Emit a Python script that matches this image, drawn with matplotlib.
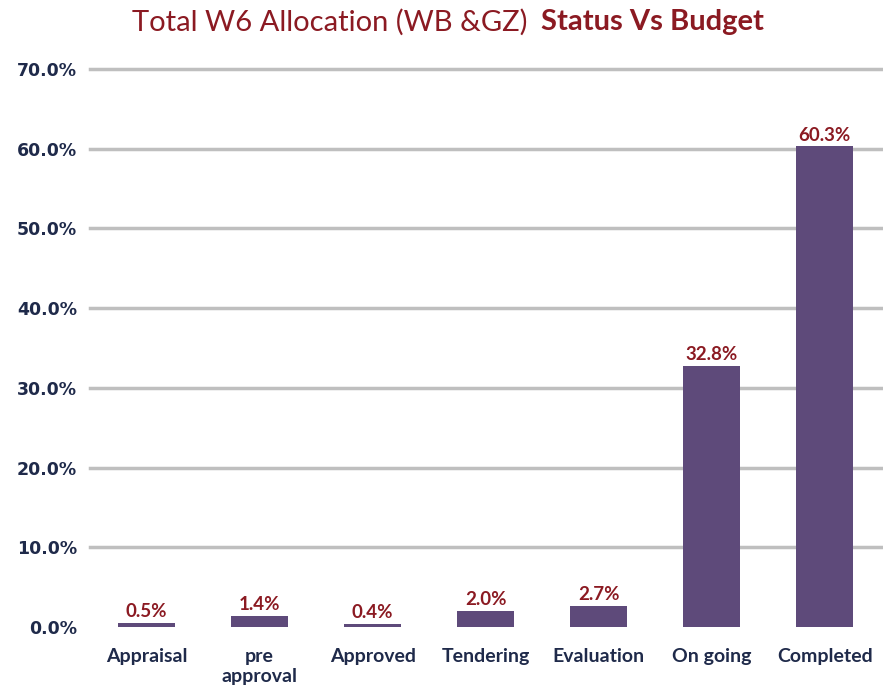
import matplotlib.pyplot as plt
from matplotlib.ticker import FuncFormatter

categories = ['Appraisal', 'pre\napproval', 'Approved', 'Tendering', 'Evaluation', 'On going', 'Completed']
values = [0.5, 1.4, 0.4, 2.0, 2.7, 32.8, 60.3]
yticks = [0, 10, 20, 30, 40, 50, 60, 70]

bar_color = '#5E4A7A'
red = '#8B1A22'
navy = '#1F2A4A'

fig = plt.figure(figsize=(8.83, 6.96), dpi=100)
ax = fig.add_axes([0.102, 0.0991, 0.896, 0.8018])

x = range(len(categories))
bars = ax.bar(x, values, width=0.5, color=bar_color, zorder=3)

for i, v in enumerate(values):
    ax.annotate(f'{v:.1f}%', (i, v), xytext=(0, 2), textcoords='offset points',
                ha='center', va='bottom', color=red, fontsize=13.5,
                fontweight='bold', family='Lato')

ax.set_xlim(-0.5, len(categories) - 0.5)
ax.set_ylim(0, 70)
ax.set_yticks(yticks)
ax.yaxis.set_major_formatter(FuncFormatter(lambda v, p: f'{v:.1f}%'))
for t in yticks[1:]:
    ax.axhline(t, color='#BFBFBF', lw=2.5, zorder=1, clip_on=False)

ax.set_xticks(list(x))
ax.set_xticklabels(categories, fontsize=14, fontweight='bold', color=navy,
                   family='Lato', va='top', linespacing=1.2)
ax.tick_params(axis='x', length=0, pad=15)
ax.tick_params(axis='y', length=0, pad=9.5, labelsize=12.5, labelcolor=navy)
for lab in ax.get_yticklabels():
    lab.set_fontweight('bold')
    lab.set_family('DejaVu Sans')

for s in ax.spines.values():
    s.set_visible(False)

fig.text(0.597, 0.968, 'Total W6 Allocation (WB &GZ)', ha='right', va='center',
         fontsize=21, color=red, family='Lato')
fig.text(0.613, 0.968, 'Status Vs Budget', ha='left', va='center',
         fontsize=21, color=red, fontweight='bold', family='Lato')

fig.savefig('out.png', dpi=100)
